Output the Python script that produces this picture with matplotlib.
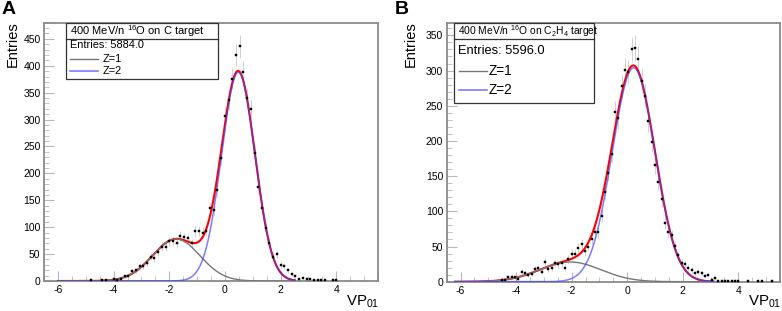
import numpy as np
import matplotlib
matplotlib.use("Agg")
import matplotlib.pyplot as plt
from matplotlib.patches import Rectangle
from matplotlib.lines import Line2D
from matplotlib.ticker import MultipleLocator

plt.rcParams['font.family'] = ['Liberation Sans', 'DejaVu Sans']
plt.rcParams['mathtext.fontset'] = 'custom'
plt.rcParams['mathtext.rm'] = 'Liberation Sans'
plt.rcParams['mathtext.it'] = 'Liberation Sans:italic'
plt.rcParams['mathtext.bf'] = 'Liberation Sans:bold'
plt.rcParams['axes.unicode_minus'] = False

# ---------------- data ----------------
# Panel A: 400 MeV/n 16O on C target
a_bin_start = -4.8
a_bin_width = 2.0 / 15.0
a_counts = [1, 0, 0, 1, 1, 0, 4, 2, 3, 9,
            10, 18, 20, 27, 28, 34, 45, 42, 53, 64,
            64, 74, 75, 70, 84, 81, 79, 70, 92, 93,
            90, 93, 136, 132, 169, 228, 307, 336, 376, 420,
            436, 389, 340, 319, 237, 174, 136, 98, 71, 45,
            50, 29, 27, 20, 13, 10, 4, 6, 4, 4,
            1, 1, 2, 1, 0, 1, 1]
a_entries = "5884.0"
# fit components (amplitude, mean, sigma)
a_z1 = [78.0, -1.75, 0.85]
a_z2 = [388.0, 0.48, 0.60]
a_curve_range = [-6.0, 2.5]
a_ylim = 480
a_yticks = [0, 50, 100, 150, 200, 250, 300, 350, 400, 450]

# Panel B: 400 MeV/n 16O on C2H4 target
b_bin_start = -4.52
b_bin_width = 0.12
b_counts = [2, 2, 6, 7, 6, 4, 14, 12, 10, 11,
            18, 19, 14, 28, 18, 20, 26, 25, 26, 20,
            32, 40, 40, 48, 54, 43, 50, 61, 70, 70,
            94, 127, 155, 182, 241, 232, 278, 301, 298, 330,
            332, 317, 285, 264, 228, 199, 166, 142, 117, 84,
            70, 66, 51, 38, 27, 25, 20, 17, 12, 14,
            12, 8, 9, 2, 5, 1, 1, 1, 1, 1,
            1, 1, 0, 0, 1, 0, 0, 1, 1, 0,
            0, 1]
b_entries = "5596.0"
b_z1 = [28.0, -2.05, 1.10]
b_z2 = [304.0, 0.23, 0.77]
b_curve_range = [-6.2, 3.1]
b_ylim = 368
b_yticks = [0, 50, 100, 150, 200, 250, 300, 350]

xticks = [-6, -4, -2, 0, 2, 4]
xlim = [-6.5, 5.5]

W, H = 782, 311
fig = plt.figure(figsize=(W / 100, H / 100), dpi=100)


def fx(px):
    return px / W


def fy(py):
    return 1 - py / H


def gauss(x, p):
    return p[0] * np.exp(-0.5 * ((x - p[1]) / p[2]) ** 2)


FRAME = '#8a8a8a'


def panel(rect, start, width, counts, z1, z2, crange, ylim, yticks):
    ax = fig.add_axes(rect)
    counts = np.asarray(counts, dtype=float)
    x = start + width * np.arange(len(counts))
    m = counts > 0
    ax.errorbar(x[m], counts[m], yerr=np.sqrt(counts[m]), fmt='none',
                ecolor='#d0d0d0', elinewidth=0.7, zorder=2)
    ax.plot(x[m], counts[m], 's', color='black', markersize=1.7,
            markeredgewidth=0.3, zorder=5)
    xc = np.linspace(crange[0], crange[1], 600)
    g1 = gauss(xc, z1)
    g2 = gauss(xc, z2)
    ax.plot(xc, g1 + g2, color='#ff0000', lw=1.5, zorder=3)
    ax.plot(xc, g1, color='#777777', lw=1.0, zorder=3)
    ax.plot(xc, g2, color='#4040ff', lw=1.1, alpha=0.68, zorder=4)
    ax.set_xlim(xlim)
    ax.set_ylim(0, ylim)
    ax.set_xticks(xticks)
    ax.set_yticks(yticks)
    ax.xaxis.set_minor_locator(MultipleLocator(0.5))
    ax.yaxis.set_minor_locator(MultipleLocator(10))
    ax.tick_params(which='both', direction='in', color='#b8b8b8',
                   top=False, right=False, labelsize=7.5)
    ax.tick_params(which='major', length=7, width=0.8)
    ax.tick_params(which='minor', length=3.5, width=0.6)
    ax.tick_params(axis='y', pad=2.5)
    ax.tick_params(axis='x', pad=3)
    for s in ax.spines.values():
        s.set_color(FRAME)
        s.set_linewidth(1.3)
    return ax


axA = panel([fx(44), fy(281), fx(378 - 44), (281 - 22.7) / H],
            a_bin_start, a_bin_width, a_counts, a_z1, a_z2, a_curve_range,
            a_ylim, a_yticks)
axB = panel([fx(446.7), fy(281.7), fx(780 - 446.7), (281.7 - 22.7) / H],
            b_bin_start, b_bin_width, b_counts, b_z1, b_z2, b_curve_range,
            b_ylim, b_yticks)


def legend_box(x0, x1, y0, ysep, y1, title, tsize, entries, esize, ey,
               zy1, zy2, zsize, lx0, lx1, tx):
    fig.add_artist(Rectangle((fx(x0), fy(y1)), fx(x1 - x0), (y1 - y0) / H,
                             transform=fig.transFigure, facecolor='white',
                             edgecolor='#333333', lw=0.9, zorder=10))
    fig.add_artist(Line2D([fx(x0), fx(x1)], [fy(ysep), fy(ysep)],
                          transform=fig.transFigure, color='#333333',
                          lw=0.9, zorder=11))
    fig.text(fx(x0 + 3.8), fy((y0 + ysep) / 2 + 0.5), title, fontsize=tsize,
             va='center', ha='left', zorder=12)
    fig.text(fx(x0 + 3.8), fy(ey), 'Entries: ' + entries, fontsize=esize,
             va='center', ha='left', zorder=12)
    fig.add_artist(Line2D([fx(lx0), fx(lx1)], [fy(zy1), fy(zy1)],
                          transform=fig.transFigure, color='#777777',
                          lw=1.0, zorder=12))
    fig.add_artist(Line2D([fx(lx0), fx(lx1)], [fy(zy2), fy(zy2)],
                          transform=fig.transFigure, color='#7a7aff',
                          lw=1.2, zorder=12))
    fig.text(fx(tx), fy(zy1), 'Z=1', fontsize=zsize, va='center',
             ha='left', zorder=12)
    fig.text(fx(tx), fy(zy2), 'Z=2', fontsize=zsize, va='center',
             ha='left', zorder=12)


legend_box(65.7, 218.3, 22.7, 39.3, 79.3,
           '400 MeV/n $^{16}$O on C target', 8.0,
           a_entries, 7.9, 45.5, 59.3, 71.0, 7.9, 70, 98, 103)
legend_box(454.3, 594.3, 22.7, 39.3, 103.3,
           '400 MeV/n $^{16}$O on C$_{2}$H$_{4}$ target', 7.4,
           b_entries, 9.3, 51.0, 71.0, 90.0, 9.8, 459, 487, 489)

# axis titles
fig.text(fx(13), fy(21), 'Entries', rotation=90, fontsize=10.5,
         ha='center', va='top')
fig.text(fx(411), fy(21), 'Entries', rotation=90, fontsize=10.5,
         ha='center', va='top')
fig.text(fx(379), fy(302), 'VP$_{01}$', fontsize=10.8, ha='right',
         va='center')
fig.text(fx(781), fy(302), 'VP$_{01}$', fontsize=10.8, ha='right',
         va='center')

# panel letters
fig.text(fx(2), fy(1), 'A', fontsize=14, fontweight='bold', ha='left',
         va='top')
fig.text(fx(395), fy(1), 'B', fontsize=14, fontweight='bold', ha='left',
         va='top')

fig.savefig('out.png', dpi=100)
